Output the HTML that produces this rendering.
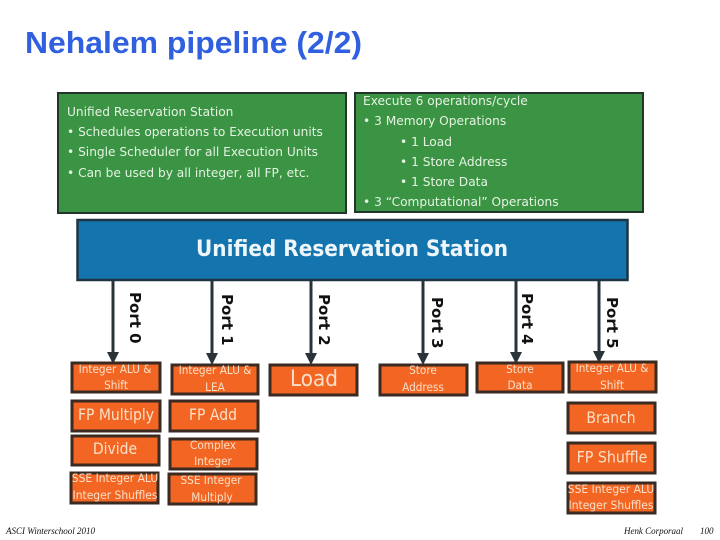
<!DOCTYPE html>
<html><head><meta charset="utf-8"><style>
html,body{margin:0;padding:0;background:#fff;width:720px;height:540px;overflow:hidden}
svg{display:block}
.g{font-family:"DejaVu Sans",sans-serif;font-size:12.5px;fill:#e6f3e2}
.o{font-family:"DejaVu Sans",sans-serif;fill:#fbe0c8;text-anchor:middle}
.p{font-family:"DejaVu Sans",sans-serif;font-weight:bold;font-size:15.5px;fill:#111}
.f{font-family:"Liberation Serif",serif;font-style:italic;font-size:9px;fill:#111}
</style></head><body>
<svg width="720" height="540" viewBox="0 0 720 540" xmlns="http://www.w3.org/2000/svg">
<text x="25" y="53" font-family="Liberation Sans,sans-serif" font-weight="bold" font-size="30.5" textLength="337" lengthAdjust="spacingAndGlyphs" fill="#3060e0">Nehalem pipeline (2/2)</text>

<rect x="58" y="93" width="288" height="120" fill="#3a9444" stroke="#22352a" stroke-width="2"/>
<rect x="355" y="93" width="288" height="119" fill="#3a9444" stroke="#22352a" stroke-width="2"/>
<g>
<text class="g" transform="translate(67 116) scale(.976 1)">Unified Reservation Station</text>
<text class="g" transform="translate(67 136) scale(.976 1)">• Schedules operations to Execution units</text>
<text class="g" transform="translate(67 156) scale(.976 1)">• Single Scheduler for all Execution Units</text>
<text class="g" transform="translate(67 177) scale(.976 1)">• Can be used by all integer, all FP, etc.</text>
<text class="g" transform="translate(363 105) scale(.976 1)">Execute 6 operations/cycle</text>
<text class="g" transform="translate(363 125) scale(.976 1)">• 3 Memory Operations</text>
<text class="g" transform="translate(400 146) scale(.976 1)">• 1 Load</text>
<text class="g" transform="translate(400 166) scale(.976 1)">• 1 Store Address</text>
<text class="g" transform="translate(400 186) scale(.976 1)">• 1 Store Data</text>
<text class="g" transform="translate(363 206) scale(.976 1)">• 3 “Computational” Operations</text>
</g>

<rect x="77.5" y="220" width="550" height="60" fill="#1474ae" stroke="#1d3442" stroke-width="2.5"/>
<text x="196" y="256" font-family="DejaVu Sans,sans-serif" font-weight="bold" font-size="22.5" textLength="312" lengthAdjust="spacingAndGlyphs" fill="#eef6fa">Unified Reservation Station</text>

<g stroke="#2a3338" stroke-width="3" fill="none">
<path d="M113 281V354M212 281V354M311 281V354M423 281V354M516 281V354M599 281V354"/>
</g>
<g fill="#2a3338">
<path d="M107 352H119L113 364Z"/><path d="M206 353H218L212 365Z"/><path d="M305 353H317L311 365Z"/>
<path d="M417 353H429L423 365Z"/><path d="M510 352H522L516 364Z"/><path d="M593 351H605L599 363Z"/>
</g>
<text class="p" transform="translate(130,292) rotate(90) scale(.97 1)">Port 0</text>
<text class="p" transform="translate(222,294) rotate(90) scale(.97 1)">Port 1</text>
<text class="p" transform="translate(319,294) rotate(90) scale(.97 1)">Port 2</text>
<text class="p" transform="translate(432,297) rotate(90) scale(.97 1)">Port 3</text>
<text class="p" transform="translate(522,293) rotate(90) scale(.97 1)">Port 4</text>
<text class="p" transform="translate(607,297) rotate(90) scale(.97 1)">Port 5</text>

<g fill="#f26522" stroke="#3a2a22" stroke-width="3">
<rect x="72" y="363" width="88" height="29"/>
<rect x="172" y="365" width="86" height="29"/>
<rect x="270" y="365" width="87" height="30"/>
<rect x="380" y="365" width="87" height="30"/>
<rect x="477" y="363" width="86" height="29"/>
<rect x="569" y="362" width="87" height="30"/>
<rect x="72" y="401" width="88" height="30"/>
<rect x="170" y="401" width="88" height="30"/>
<rect x="72" y="436" width="87" height="29"/>
<rect x="170" y="439" width="87" height="30"/>
<rect x="71" y="473" width="87" height="30"/>
<rect x="169" y="474" width="87" height="30"/>
<rect x="568" y="403" width="87" height="30"/>
<rect x="568" y="443" width="87" height="30"/>
<rect x="568" y="483" width="87" height="30"/>
</g>
<g font-size="11.8">
<text class="o" transform="translate(115 373) scale(.89 1)">Integer ALU &amp;</text><text class="o" transform="translate(116 389) scale(.89 1)">Shift</text>
<text class="o" transform="translate(215 374) scale(.89 1)">Integer ALU &amp;</text><text class="o" transform="translate(215 391) scale(.89 1)">LEA</text>
<text class="o" transform="translate(423 374) scale(.89 1)">Store</text><text class="o" transform="translate(423 391) scale(.89 1)">Address</text>
<text class="o" transform="translate(520 373) scale(.89 1)">Store</text><text class="o" transform="translate(520 389) scale(.89 1)">Data</text>
<text class="o" transform="translate(612 372) scale(.89 1)">Integer ALU &amp;</text><text class="o" transform="translate(612 389) scale(.89 1)">Shift</text>
<text class="o" transform="translate(213 449) scale(.89 1)">Complex</text><text class="o" transform="translate(213 465) scale(.89 1)">Integer</text>
<text class="o" transform="translate(115 482) scale(.91 1)">SSE Integer ALU</text><text class="o" transform="translate(115 499) scale(.91 1)">Integer Shuffles</text>
<text class="o" transform="translate(211 484) scale(.89 1)">SSE Integer</text><text class="o" transform="translate(212 501) scale(.89 1)">Multiply</text>
<text class="o" transform="translate(611 493) scale(.91 1)">SSE Integer ALU</text><text class="o" transform="translate(611 509) scale(.91 1)">Integer Shuffles</text>
</g>
<text class="o" font-size="22.5" transform="translate(314 386) scale(.89 1)">Load</text>
<text class="o" font-size="15.7" transform="translate(116 420) scale(.89 1)">FP Multiply</text>
<text class="o" font-size="15.7" transform="translate(213 420) scale(.89 1)">FP Add</text>
<text class="o" font-size="15.7" transform="translate(115 454) scale(.89 1)">Divide</text>
<text class="o" font-size="15.7" transform="translate(611 423) scale(.89 1)">Branch</text>
<text class="o" font-size="16" transform="translate(612 462.5) scale(.89 1)">FP Shuffle</text>

<text class="f" x="6" y="534">ASCI Winterschool 2010</text>
<text class="f" x="624" y="534" textLength="59" lengthAdjust="spacingAndGlyphs">Henk Corporaal</text>
<text class="f" x="700" y="534">100</text>
</svg>
</body></html>
